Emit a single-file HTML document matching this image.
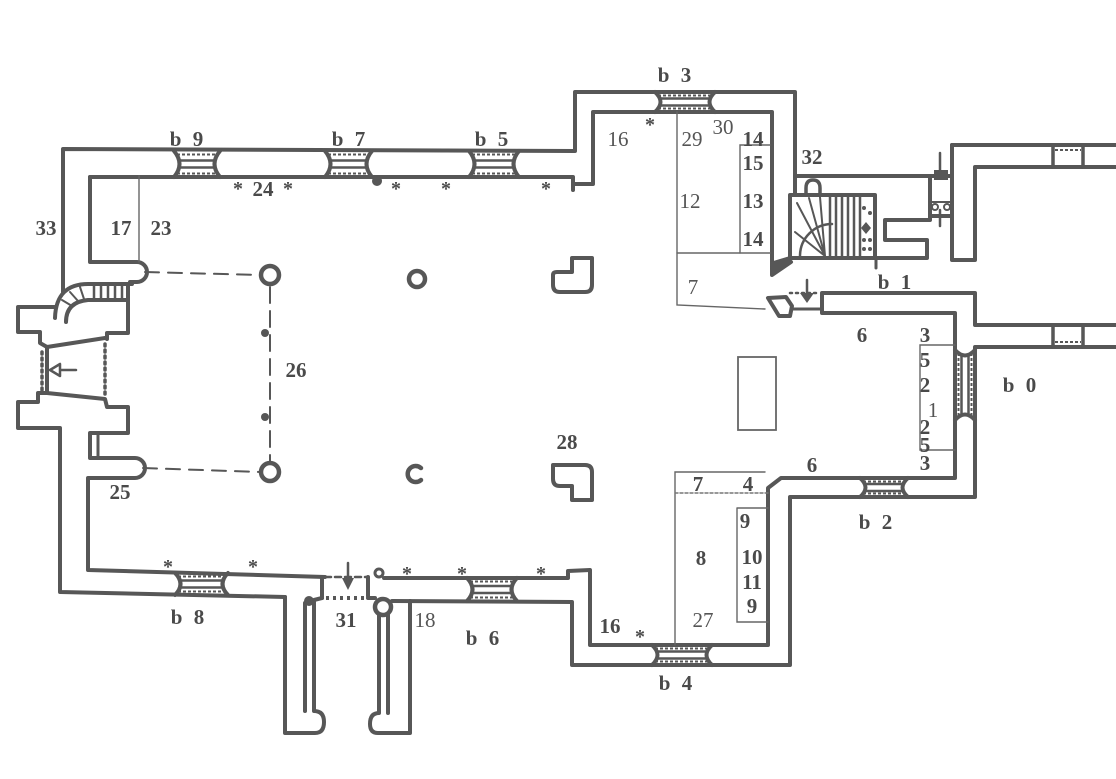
<!DOCTYPE html>
<html><head><meta charset="utf-8">
<style>
html,body{margin:0;padding:0;background:#fff;}
svg{display:block}
text{font-family:"Liberation Serif",serif;font-weight:bold;fill:#4a4a4a;font-size:21px;text-anchor:middle}
text.n{font-weight:normal;fill:#555}
text.b{letter-spacing:3px}
text.a{font-size:20px}
</style></head><body>
<svg width="1116" height="779" viewBox="0 0 1116 779" xmlns="http://www.w3.org/2000/svg">
<rect width="1116" height="779" fill="#fff"/>
<g fill="none" stroke="#575757" stroke-width="4" stroke-linejoin="round" stroke-linecap="round">
  <!-- north / west outer -->
  <path d="M795,195 V92 H575 V151 L63,149 V292"/>
  <!-- west spiral stair -->
  <path d="M55,318 Q56,283 90,284 H132"/>
  <path d="M66,322 Q66,302 88,300 H128"/>
  <path d="M90,177 V262 H137 A10,10 0 0 1 137,282 H130"/>
  <path d="M128,284 V333 H107 V339"/>
  <path d="M56,307 H18 V332 H40 V343 L47,347 L105,338"/>
  <path d="M47,347 V393 L105,399 L107,407 H128 V433 H90 V458 H135 A10,10 0 0 1 135,478 H88 V570 L325,577"/>
  <path d="M47,393 H38 V402 H18 V428 H60 V592 L285,597"/>
  <path d="M98,433 V458" stroke-width="3"/>
  <!-- south buttresses -->
  <path d="M285,597 V733 H315 Q324,733 324,722 Q324,711 314,711 V600 L322,598"/>
  <path d="M305,603 V711"/>
  <path d="M322,577 V598"/>
  <path d="M368,577 V596"/>
  <path d="M410,601 V733 H378 Q370,733 370,724 Q370,713 379,713 V615"/>
  <path d="M388,615 V713"/>
  <circle cx="383" cy="607" r="8" stroke-width="4.5"/>
  <circle cx="379" cy="573" r="4" stroke-width="3"/>
  <!-- inner south, transept, chancel -->
  <path d="M384,578 L568,578 V571 L590,570 V645 H768 V488 L781,478 H955 V313 H822 V293 H975 V325 H1116"/>
  <path d="M368,598 H375"/>
  <path d="M392,601 L572,602 V665 H790 V497 H975 V347 H1116"/>
  <!-- north inner -->
  <path d="M90,177 L573,177 V190"/>
  <path d="M573,184 H593 V112 H772 V275 L791,262"/>
  <!-- stair tower -->
  <path d="M790,195 V258 H875 V195 Z"/>
  <path d="M795,176 H930"/>
  <path d="M806,195 V188 Q806,180 813,180 Q820,180 820,188 V195" stroke-width="3.5"/>
  <path d="M875,258 H927 V240 H885 V220 H930 V176"/>
  <path d="M930,176 H952 M930,216 H952"/>
  <path d="M952,145 V260 H975 V167 H1116"/>
  <path d="M952,145 H1116"/>
  <path d="M1053,145 V167 M1083,145 V167" stroke-width="3.5"/>
  <path d="M1053,325 V347 M1083,325 V347" stroke-width="3.5"/>
  <path d="M876,258 V268" stroke-width="3"/>
  <!-- chancel north door -->
  <path d="M768,298 L786,297 L792,306 L790,316 L779,316 Z"/>
  <path d="M792,309 H822" stroke-width="3"/>
  <!-- windows -->
  <path d="M174,151 Q185,164 174,177 M220,151 Q209,164 220,177"/>
  <path d="M325,151 Q336,164 325,177 M372,151 Q361,164 372,177"/>
  <path d="M469,151 Q480,164 469,177 M519,151 Q508,164 519,177"/>
  <path d="M655,92 Q666,102 655,112 M715,92 Q704,102 715,112"/>
  <path d="M175,573 Q186,584 175,595 M228,573 Q217,584 228,595"/>
  <path d="M467,578 Q478,589.5 467,601 M517,578 Q506,589.5 517,601"/>
  <path d="M652,645 Q663,655 652,665 M712,645 Q701,655 712,665"/>
  <path d="M860,478 Q871,487.5 860,497 M908,478 Q897,487.5 908,497"/>
  <path d="M955,350 Q965,361 975,350 M955,420 Q965,409 975,420"/>
  <g stroke-width="2.5">
    <path d="M180,160.5 H214 M180,167.5 H214"/>
    <path d="M331,160.5 H366 M331,167.5 H366"/>
    <path d="M475,160.5 H513 M475,167.5 H513"/>
    <path d="M661,98.5 H709 M661,105.5 H709"/>
    <path d="M181,580.5 H222 M181,587.5 H222"/>
    <path d="M473,586 H511 M473,593 H511"/>
    <path d="M658,651.5 H706 M658,658.5 H706"/>
    <path d="M866,484 H902 M866,491 H902"/>
    <path d="M961.5,356 V414 M968.5,356 V414"/>
  </g>
  <g stroke-width="2" stroke-dasharray="3 2" stroke-linecap="butt">
    <path d="M177,154.5 H217 M177,173.5 H217"/>
    <path d="M328,154.5 H369 M328,173.5 H369"/>
    <path d="M472,154.5 H516 M472,173.5 H516"/>
    <path d="M658,95.5 H712 M658,108.5 H712"/>
    <path d="M178,576.5 H225 M178,591.5 H225"/>
    <path d="M470,581.5 H514 M470,597.5 H514"/>
    <path d="M655,648.5 H709 M655,661.5 H709"/>
    <path d="M863,481.5 H905 M863,493.5 H905"/>
    <path d="M958.5,353 V417 M971.5,353 V417"/>
    <path d="M1055,150 H1081 M1055,342 H1081"/>
  </g>
  <!-- piers -->
  <circle cx="270" cy="275" r="9" stroke-width="4.5"/>
  <circle cx="417" cy="279" r="8" stroke-width="4.5"/>
  <path d="M421,468 A8,8 0 1 0 421,480" stroke-width="4.5"/>
  <circle cx="270" cy="472" r="9" stroke-width="4.5"/>
  <path d="M572,258 H592 V285 Q592,292 585,292 H560 Q553,292 553,285 V275 Q553,272 557,272 H572 Z"/>
  <path d="M553,465 H585 Q592,465 592,472 V500 H572 V486 H560 Q553,486 553,479 Z"/>
</g>

<!-- fills & details -->
<g fill="#575757" stroke="none">
  <circle cx="309" cy="601" r="5"/>
  <circle cx="377" cy="181" r="5"/>
  <circle cx="265" cy="333" r="4"/>
  <circle cx="265" cy="417" r="4"/>
  <polygon points="770,262 790,256 791,262 772,277"/>
  <polygon points="342,578 354,578 348,590"/>
  <polygon points="800,293 814,293 807,303"/>
  <rect x="934" y="170" width="14" height="10"/>
  <polygon points="861,228 866,222 871,228 866,234"/>
  <circle cx="864" cy="208" r="2"/><circle cx="870" cy="213" r="2"/>
  <circle cx="864" cy="240" r="2"/><circle cx="870" cy="240" r="2"/>
  <circle cx="864" cy="249" r="2"/><circle cx="870" cy="249" r="2"/>
</g>
<g fill="none" stroke="#575757" stroke-linecap="round">
  <!-- stair steps west -->
  <path d="M94,285 V300 M101,285 V300 M108,285 V300 M115,285 V300 M122,285 V300" stroke-width="2.5"/>
  <path d="M62,300 L72,306 M70,292 L78,301 M80,287 L84,299" stroke-width="2"/>
  <!-- north stair -->
  <path d="M830,197 V256 M836,197 V256 M842,197 V256 M848,197 V256 M854,197 V256 M860,197 V256" stroke-width="2.5"/>
  <path d="M800,256 A32,32 0 0 1 832,224" stroke-width="2.5"/>
  <path d="M825,256 L797,203 M825,256 L809,198 M825,256 L820,197 M825,256 L795,232" stroke-width="2"/>
  <!-- porch -->
  <path d="M42,352 V390" stroke-width="3.5" stroke-dasharray="2 4"/>
  <path d="M105,344 V398" stroke-width="3.5" stroke-dasharray="2 4"/>
  <path d="M50,370 L60,364 L60,376 Z M60,370 H76" stroke-width="2.5" stroke-linejoin="round"/>
  <!-- door 31 -->
  <path d="M325,577 H368" stroke-width="2.5" stroke-dasharray="6 4"/>
  <path d="M326,598 H366" stroke-width="4" stroke-dasharray="3 4" stroke-linecap="butt"/>
  <path d="M348,563 V582" stroke-width="2.5"/>
  <!-- chancel door -->
  <path d="M807,280 V296" stroke-width="2.5"/>
  <path d="M790,293 H818" stroke-width="2.5" stroke-dasharray="2 4"/>
  <!-- top right door -->
  <path d="M940,153 V172 M940,210 V226" stroke-width="2.5"/>
  <circle cx="935" cy="207" r="3" stroke-width="2"/>
  <circle cx="947" cy="207" r="3" stroke-width="2"/>
  <path d="M930,202 H952" stroke-width="2"/>
  <!-- dashed nave lines -->
  <path d="M145,272 L260,275" stroke-width="2" stroke-dasharray="14 9"/>
  <path d="M143,468 L260,472" stroke-width="2" stroke-dasharray="14 9"/>
  <path d="M270,287 V461" stroke-width="2" stroke-dasharray="16 8"/>
  <!-- thin furniture lines -->
  <g stroke="#666" stroke-width="1.4">
    <path d="M139,176 V262"/>
    <path d="M677,112 V305 L765,309"/>
    <path d="M677,253 H770"/>
    <path d="M770,145 H740 V253"/>
    <path d="M675,645 V472 H765"/>
    <path d="M737,508 H768 M737,508 V622 H768"/>
    <rect x="738" y="357" width="38" height="73" stroke-width="1.8"/>
    <path d="M955,345 H920 V450 H955"/>
  </g>
  <path d="M675,493 H768" stroke="#777" stroke-width="1.4" stroke-dasharray="3 2"/>
</g>

<!-- labels -->
<text x="188" y="146" class="b">b 9</text>
<text x="350" y="146" class="b">b 7</text>
<text x="493" y="146" class="b">b 5</text>
<text x="676" y="82" class="b">b 3</text>
<text x="46" y="235">33</text>
<text x="121" y="235">17</text>
<text x="161" y="235">23</text>
<text x="263" y="196">24</text>
<text x="618" y="146" class="n">16</text>
<text x="692" y="146" class="n">29</text>
<text x="723" y="134" class="n">30</text>
<text x="753" y="146">14</text>
<text x="753" y="170">15</text>
<text x="690" y="208" class="n">12</text>
<text x="753" y="208">13</text>
<text x="753" y="246">14</text>
<text x="693" y="294" class="n">7</text>
<text x="812" y="164">32</text>
<text x="896" y="289" class="b">b 1</text>
<text x="862" y="342">6</text>
<text x="1021" y="392" class="b">b 0</text>
<text x="925" y="342">3</text>
<text x="925" y="367">5</text>
<text x="925" y="392">2</text>
<text x="933" y="417" class="n">1</text>
<text x="925" y="434">2</text>
<text x="925" y="452">5</text>
<text x="925" y="470">3</text>
<text x="812" y="472">6</text>
<text x="877" y="529" class="b">b 2</text>
<text x="698" y="491">7</text>
<text x="748" y="491">4</text>
<text x="745" y="528">9</text>
<text x="752" y="564">10</text>
<text x="752" y="589">11</text>
<text x="752" y="613">9</text>
<text x="701" y="565">8</text>
<text x="703" y="627" class="n">27</text>
<text x="610" y="633">16</text>
<text x="677" y="690" class="b">b 4</text>
<text x="346" y="627">31</text>
<text x="425" y="627" class="n">18</text>
<text x="484" y="645" class="b">b 6</text>
<text x="189" y="624" class="b">b 8</text>
<text x="120" y="499">25</text>
<text x="296" y="377">26</text>
<text x="567" y="449">28</text>
<!-- asterisks -->
<text x="238" y="195" class="a">*</text>
<text x="288" y="195" class="a">*</text>
<text x="396" y="195" class="a">*</text>
<text x="446" y="195" class="a">*</text>
<text x="546" y="195" class="a">*</text>
<text x="650" y="131" class="a">*</text>
<text x="168" y="573" class="a">*</text>
<text x="253" y="573" class="a">*</text>
<text x="407" y="580" class="a">*</text>
<text x="462" y="580" class="a">*</text>
<text x="541" y="580" class="a">*</text>
<text x="640" y="643" class="a">*</text>
</svg>
</body></html>
